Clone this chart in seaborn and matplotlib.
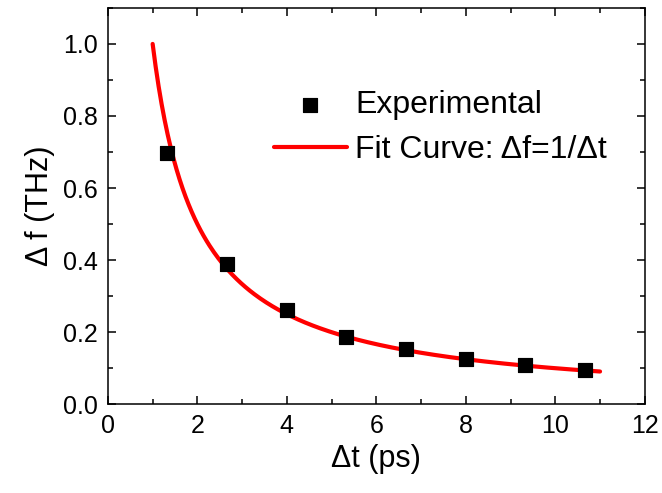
import matplotlib
matplotlib.use('Agg')
import matplotlib.pyplot as plt
import seaborn as sns
import numpy as np
import pandas as pd
from matplotlib.ticker import MultipleLocator

dt_exp = [1.33, 2.67, 4.0, 5.33, 6.67, 8.0, 9.33, 10.67]
df_exp = [0.697, 0.389, 0.262, 0.187, 0.152, 0.125, 0.110, 0.096]

# fit curve range
fit_start, fit_stop = 1.0, 11.0

sns.set_theme(style="ticks")
plt.rcParams['font.family'] = ['Liberation Sans', 'DejaVu Sans']
plt.rcParams['axes.linewidth'] = 1.1
plt.rcParams['text.color'] = 'black'
plt.rcParams['axes.labelcolor'] = 'black'

fig = plt.figure(figsize=(6.62, 4.93), dpi=100)
ax = fig.add_axes([0.163, 0.18, 0.811, 0.804])

t_fit = np.linspace(fit_start, fit_stop, 300)
fit_df = pd.DataFrame({"t": t_fit, "f": 1.0 / t_fit})
exp_df = pd.DataFrame({"t": dt_exp, "f": df_exp})

sns.lineplot(data=fit_df, x="t", y="f", ax=ax, color="#ff0000", lw=3,
             label="Fit Curve: \u0394f=1/\u0394t", zorder=2)
sns.scatterplot(data=exp_df, x="t", y="f", ax=ax, marker="s", s=110, color="black",
                edgecolor="black", label="Experimental", zorder=3)

ax.set_xlim(0, 12)
ax.set_ylim(0, 1.1)
ax.xaxis.set_major_locator(MultipleLocator(2))
ax.xaxis.set_minor_locator(MultipleLocator(1))
ax.yaxis.set_major_locator(MultipleLocator(0.2))
ax.yaxis.set_minor_locator(MultipleLocator(0.1))
ax.yaxis.set_major_formatter(matplotlib.ticker.FormatStrFormatter('%.1f'))
ax.tick_params(which='both', direction='in', top=True, right=True, width=1.1, colors='black')
ax.tick_params(which='major', length=6, labelsize=18, pad=7)
ax.tick_params(which='minor', length=3.5)
for s in ax.spines.values():
    s.set_visible(True)
    s.set_color('black')

ax.set_xlabel("\u0394t (ps)", fontsize=22, labelpad=4)
ax.set_ylabel("\u0394 f (THz)", fontsize=22, labelpad=6)

handles, labels = ax.get_legend_handles_labels()
ax.legend(handles[::-1], labels[::-1], loc='upper left', bbox_to_anchor=(0.279, 0.832),
          frameon=False, fontsize=23, handlelength=2.3, handletextpad=0.25,
          labelspacing=0.47, borderpad=0)

fig.savefig("out.png", dpi=100)
plt.close(fig)
